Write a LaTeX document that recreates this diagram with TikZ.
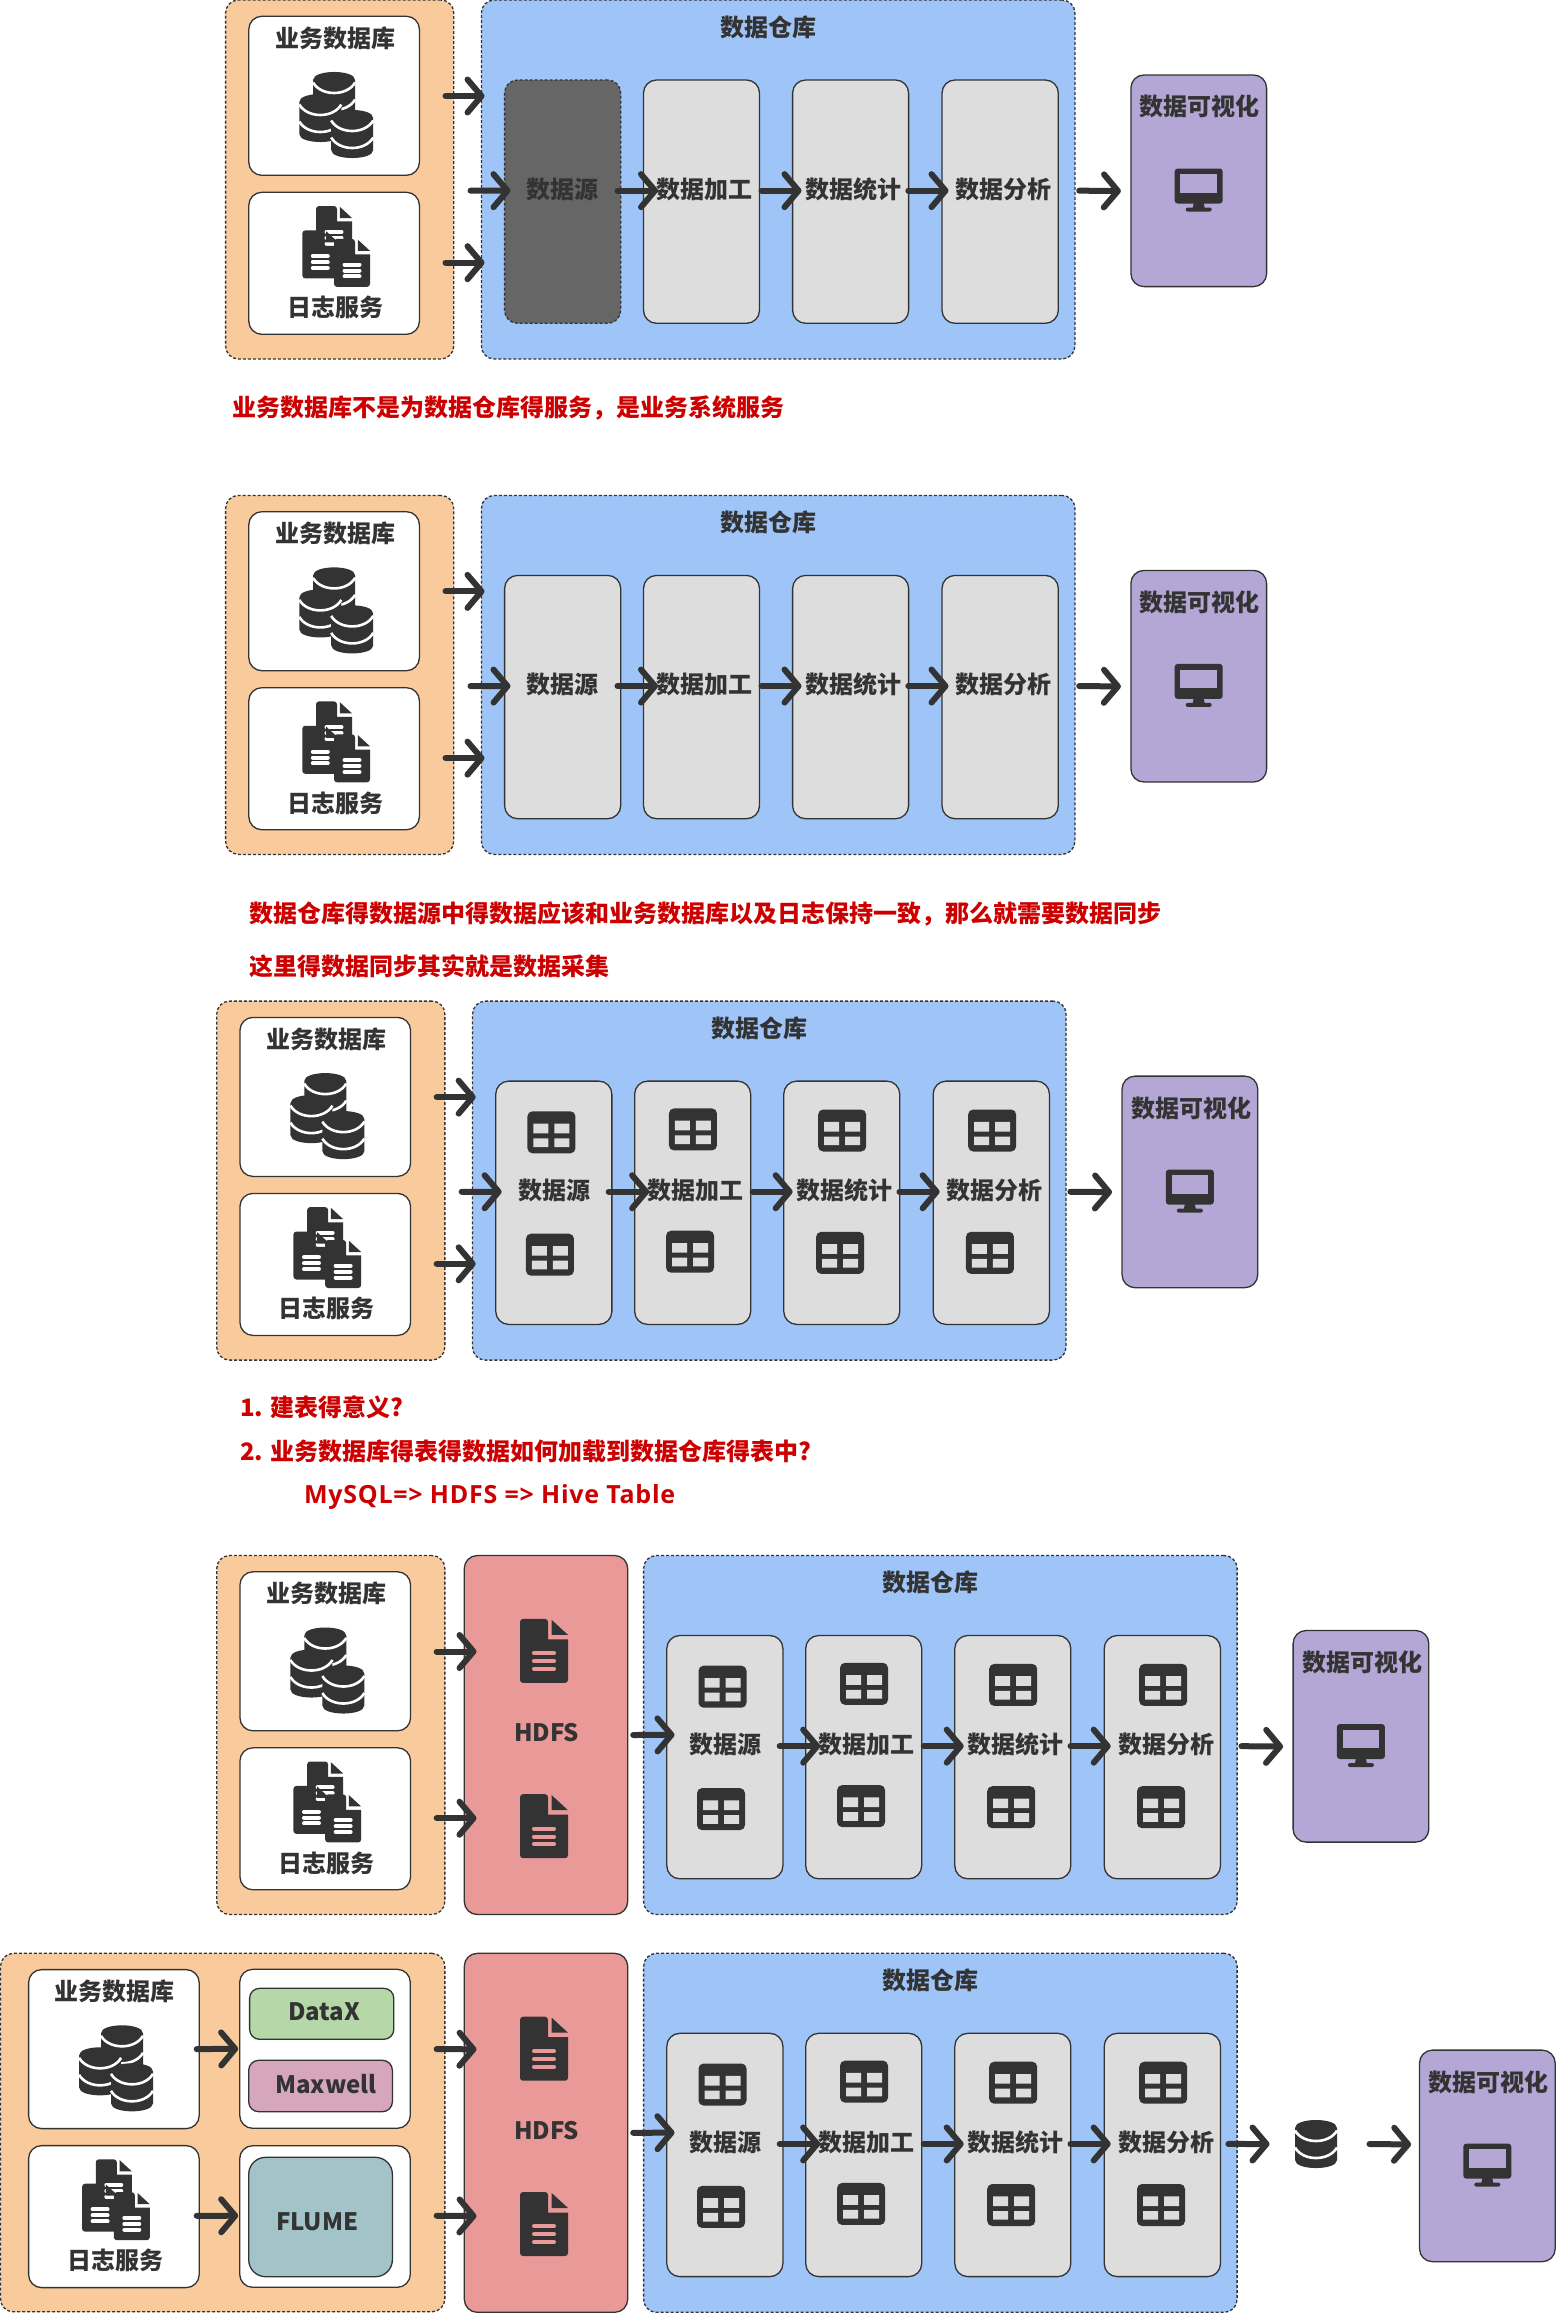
\documentclass[tikz,border=0pt]{standalone}
\usepackage{fontspec}
\setmainfont{Noto Sans CJK SC}
\newfontfamily\latinf[LetterSpace=3]{Open Sans}
\usetikzlibrary{arrows.meta}
\definecolor{ink}{HTML}{333333}
\definecolor{orangec}{HTML}{F9CB9C}
\definecolor{bluec}{HTML}{9FC5F8}
\definecolor{redc}{HTML}{EA9999}
\definecolor{purplec}{HTML}{B4A7D6}
\definecolor{greyc}{HTML}{DDDDDD}
\definecolor{darkc}{HTML}{666666}
\definecolor{greenc}{HTML}{B6D7A8}
\definecolor{pinkc}{HTML}{D5A6BD}
\definecolor{tealc}{HTML}{A2C4C9}
\definecolor{notec}{HTML}{CC0000}
\tikzset{
  bx/.style={rectangle,draw=ink,line width=1.3pt,inner sep=0pt,outer sep=0pt,rounded corners=13pt},
  dashbx/.style={bx,dash pattern=on 3pt off 2pt},
  flow/.style={draw=ink,line width=6pt,line cap=round,line join=round,shorten >=-2.5pt,shorten <=1.5pt,
    -{Straight Barb[length=14pt,width=33pt,line width=6pt,round]}},
  txt/.style={text=ink,font=\fontsize{24pt}{28pt}\selectfont\bfseries,inner sep=0pt,xshift=1.2pt,yshift=-.8pt},
  note/.style={text=notec,font=\fontsize{24pt}{28pt}\selectfont\bfseries,inner sep=0pt,anchor=west,xshift=1.2pt,yshift=-.8pt},
  pics/dbicon/.style={code={
    \fill[ink] (-21,-16) .. controls (-21,-26.7) and (21,-26.7) .. (21,-16) -- (21,16)
      .. controls (21,26.7) and (-21,26.7) .. (-21,16) -- cycle;
    \draw[white,line width=2.6pt] (-21,-13.5) .. controls (-13,0.5) and (13,0.5) .. (21,-13.5);
    \draw[white,line width=2.6pt] (-21,3.5) .. controls (-13,17.5) and (13,17.5) .. (21,3.5);
  }},
  pics/fileicon/.style={code={
    \path[fill=ink,rounded corners=3pt]
      (-24,-32) -- (4,-32) [sharp corners] -- (4,-11.5) -- (24,-11.5) [rounded corners=3pt]
      -- (24,32) -- (-24,32) -- cycle;
    \fill[ink] (7.7,-31) -- (24,-16) -- (7.7,-16) -- cycle;
    \draw[#1,line width=4pt,line cap=round] (-10,2.3) -- (10,2.3) (-10,10.3) -- (10,10.3) (-10,18) -- (10,18);
  }},
  pics/tableicon/.style={code={
    \fill[ink,rounded corners=5pt] (-24,-21) rectangle (24,21);
    \fill[greyc] (-18,-8.7) rectangle (-3,1) (3,-8.7) rectangle (18,1)
      (-18,6) rectangle (-3,14.7) (3,6) rectangle (18,14.7);
  }},
  pics/screenicon/.style={code={
    \fill[ink,rounded corners=3pt] (-24,-21.5) rectangle (24,13.5);
    \fill[purplec] (-18.3,-15.8) rectangle (18.3,2.8);
    \fill[ink] (-5,13) -- (5,13) -- (6,18) -- (-6,18) -- cycle;
    \fill[ink,rounded corners=2pt] (-13,17.5) rectangle (13,21.5);
  }},
}
\newcommand{\mybox}[6]{%
  \pgfmathsetmacro\bw{#5-#3}\pgfmathsetmacro\bh{#6-#4}%
  \pgfmathsetmacro\bcx{(#3+#5)/2}\pgfmathsetmacro\bcy{(#4+#6)/2}%
  \node[#1,minimum width=\bw pt,minimum height=\bh pt] (#2) at (\bcx,\bcy) {};}
\newcommand{\lbl}[4]{\node[txt] (#1) at (#2,#3) {#4};}
% white database and log boxes; #1 = left edge, #2 = x offset of the upper cylinder
\newcommand{\srcboxes}[2]{%
  \mybox{bx,fill=white}{dbbox}{#1}{16.3}{#1+170.6}{175.3}
  \mybox{bx,fill=white}{logbox}{#1}{192.3}{#1+170.6}{334.3}
  \lbl{dbtxt}{#1+85}{37.3}{业务数据库}
  \lbl{logtxt}{#1+85.5}{306.7}{日志服务}
  \pic at (#1+#2,96) {dbicon};
  \pic at (#1+71.5,118) {dbicon};
  \pic at (#1+103.4,134) {dbicon};
  \pic[scale=.75] at (#1+85.2,230) {fileicon=white};
  \pic[scale=.75] at (#1+71.5,254.4) {fileicon=white};
  \pic[scale=.75] at (#1+103.2,262.9) {fileicon=white};
}
% blue warehouse panel, #1 = style of the source box
\newcommand{\warehouse}[1]{%
  \mybox{dashbx,fill=bluec}{dw}{481.4}{0}{1074.9}{359}
  \lbl{dwtxt}{767.5}{26.5}{数据仓库}
  \mybox{#1}{srcn}{504.6}{80}{620.7}{323.3}
  \mybox{bx,fill=greyc}{proc}{643.5}{80}{759.5}{323.3}
  \mybox{bx,fill=greyc}{stat}{792.6}{80}{908.6}{323.3}
  \mybox{bx,fill=greyc}{anal}{942}{80}{1058.3}{323.3}
}
\newcommand{\wlabels}{%
  \lbl{srctxt}{561.7}{188.3}{数据源}
  \lbl{proctxt}{703.3}{188.3}{数据加工}
  \lbl{stattxt}{852}{188.3}{数据统计}
  \lbl{analtxt}{1002.6}{188.3}{数据分析}
}
\newcommand{\tables}{%
  \pic at (560.3,131.2) {tableicon};
  \pic at (558.8,253.6) {tableicon};
  \pic at (701.8,128.3) {tableicon};
  \pic at (698.9,250.6) {tableicon};
  \pic at (851,129.4) {tableicon};
  \pic at (849,251.7) {tableicon};
  \pic at (1001,129.4) {tableicon};
  \pic at (998.8,251.7) {tableicon};
}
\newcommand{\visbox}{%
  \mybox{bx,fill=purplec}{vis}{1130.9}{75}{1266.6}{286.6}
  \lbl{vistxt}{1198.7}{106}{数据可视化}
  \pic at (1198.7,190) {screenicon};
}
\newcommand{\innerlinks}{%
  \draw[flow] ([xshift=-4.7pt,yshift=11pt]srcn.east) -- ([xshift=12pt,yshift=11pt]proc.west);
  \draw[flow] ([xshift=.5pt,yshift=11pt]proc.east) -- ([xshift=6.4pt,yshift=11pt]stat.west);
  \draw[flow] ([xshift=-1.8pt,yshift=11pt]stat.east) -- ([xshift=4pt,yshift=11pt]anal.west);
}
\newcommand{\anavis}{%
  \draw[flow] ([xshift=19.4pt,yshift=11pt]anal.east) -- ([xshift=-12.5pt,yshift=-10.2pt]vis.west);
}
\newcommand{\hdfs}{%
  \mybox{bx,fill=redc}{hd}{464.3}{0}{627.7}{359}
  \lbl{hdtxt}{545.5}{176.7}{HDFS}
  \pic at (544,95.4) {fileicon=redc};
  \pic at (544,270.7) {fileicon=redc};
}
\begin{document}
\begin{tikzpicture}[x=1pt,y=-1pt]
\useasboundingbox (0,0) rectangle (1557,2313);
\fill[white] (0,0) rectangle (1557,2313);
% ---------- panel 1
\begin{scope}[name prefix=pa-]
  \mybox{dashbx,fill=orangec}{src}{225.6}{0}{453.7}{359}
  \srcboxes{248.8}{85.3}
  \warehouse{dashbx,fill=darkc}
  \wlabels
  \visbox
  \draw[flow] ([xshift=-9.7pt,yshift=83.5pt]src.east) -- ([xshift=.6pt,yshift=83.5pt]dw.west);
  \draw[flow] ([xshift=15.3pt,yshift=-11.2pt]src.east) -- ([xshift=3.4pt,yshift=11pt]srcn.west);
  \draw[flow] ([xshift=-9.7pt,yshift=-83.2pt]src.east) -- ([xshift=.6pt,yshift=-83.2pt]dw.west);
  \innerlinks
  \anavis
\end{scope}
\node[note] (n1) at (231,407) {业务数据库不是为数据仓库得服务，是业务系统服务};
% ---------- panel 2
\begin{scope}[shift={(0,495.4)},name prefix=pb-]
  \mybox{dashbx,fill=orangec}{src}{225.6}{0}{453.7}{359}
  \srcboxes{248.8}{85.3}
  \warehouse{bx,fill=greyc}
  \wlabels
  \visbox
  \draw[flow] ([xshift=-9.7pt,yshift=83.5pt]src.east) -- ([xshift=.6pt,yshift=83.5pt]dw.west);
  \draw[flow] ([xshift=15.3pt,yshift=-11.2pt]src.east) -- ([xshift=3.4pt,yshift=11pt]srcn.west);
  \draw[flow] ([xshift=-9.7pt,yshift=-83.2pt]src.east) -- ([xshift=.6pt,yshift=-83.2pt]dw.west);
  \innerlinks
  \anavis
\end{scope}
\node[note] (n2) at (247.7,912.7) {数据仓库得数据源中得数据应该和业务数据库以及日志保持一致，那么就需要数据同步};
\node[note] (n3) at (247.7,965.7) {这里得数据同步其实就是数据采集};
% ---------- panel 3
\begin{scope}[shift={(-8.85,1001.1)},name prefix=pc-]
  \mybox{dashbx,fill=orangec}{src}{225.6}{0}{453.7}{359}
  \srcboxes{248.8}{85.3}
  \warehouse{bx,fill=greyc}
  \tables
  \wlabels
  \visbox
  \draw[flow] ([xshift=-9.7pt,yshift=83.5pt]src.east) -- ([xshift=.6pt,yshift=83.5pt]dw.west);
  \draw[flow] ([xshift=15.3pt,yshift=-11.2pt]src.east) -- ([xshift=3.4pt,yshift=11pt]srcn.west);
  \draw[flow] ([xshift=-9.7pt,yshift=-83.2pt]src.east) -- ([xshift=.6pt,yshift=-83.2pt]dw.west);
  \innerlinks
  \anavis
\end{scope}
\node[note] (n4) at (238.9,1406.6) {1. 建表得意义?};
\node[note] (n5) at (238.9,1450.8) {2. 业务数据库得表得数据如何加载到数据仓库得表中?};
\node[note,font=\fontsize{25pt}{28pt}\selectfont\bfseries] (n6) at (302.7,1496) {\latinf MySQL=> HDFS => Hive Table};
% ---------- panel 4
\begin{scope}[shift={(0,1555.5)},name prefix=pd-]
  \begin{scope}[shift={(-8.85,0)}]
    \mybox{dashbx,fill=orangec}{src}{225.6}{0}{453.7}{359}
    \srcboxes{248.8}{85.3}
  \end{scope}
  \hdfs
  \begin{scope}[shift={(162.2,0)}]
    \warehouse{bx,fill=greyc}
    \tables
    \wlabels
    \visbox
    \innerlinks
    \anavis
  \end{scope}
  \draw[flow] ([xshift=-9.7pt,yshift=83.5pt]src.east) -- ([xshift=9.7pt,yshift=83.5pt]hd.west);
  \draw[flow] ([xshift=-9.7pt,yshift=-83.2pt]src.east) -- ([xshift=9.7pt,yshift=-83.2pt]hd.west);
  \draw[flow] ([xshift=4pt]hd.east) -- ([xshift=5.2pt,yshift=22.3pt]srcn.west);
\end{scope}
% ---------- panel 5
\begin{scope}[shift={(0,1953.3)},name prefix=pe-]
  \mybox{dashbx,fill=orangec}{src}{0.5}{0}{444.85}{358.5}
  \srcboxes{28.6}{93.4}
  \mybox{bx,fill=white}{cola}{239.7}{16}{410.3}{175}
  \mybox{bx,fill=white}{colb}{239.7}{192.4}{410.3}{334}
  \mybox{bx,fill=greenc,rounded corners=10pt}{datax}{249.6}{35}{393.8}{86}
  \mybox{bx,fill=pinkc,rounded corners=10pt}{maxw}{248.7}{107}{392.4}{158.4}
  \mybox{bx,fill=tealc,rounded corners=17pt}{flume}{248.7}{204}{392.4}{323.4}
  \lbl{dataxtxt}{322.8}{57.7}{DataX}
  \lbl{maxwtxt}{324.6}{129.7}{Maxwell}
  \lbl{flumetxt}{316}{267.7}{FLUME}
  \hdfs
  \begin{scope}[shift={(162.2,0)}]
    \warehouse{bx,fill=greyc}
    \tables
    \wlabels
    \innerlinks
  \end{scope}
  \begin{scope}[shift={(288.6,21.8)}]
    \visbox
  \end{scope}
  \node[inner sep=0pt,outer sep=0pt,minimum width=42pt,minimum height=48pt] (db) at (1316,190.7) {};
  \pic at (db.center) {dbicon};
  \draw[flow] ([xshift=-4pt]dbbox.east) -- ([xshift=-4pt]cola.west);
  \draw[flow] ([xshift=-4pt,yshift=.8pt]logbox.east) -- ([xshift=-4pt,yshift=.8pt]colb.west);
  \draw[flow] ([xshift=-9.7pt,yshift=83.5pt]src.east) -- ([xshift=9.7pt,yshift=83.5pt]hd.west);
  \draw[flow] ([xshift=-9.7pt,yshift=-83.2pt]src.east) -- ([xshift=9.7pt,yshift=-83.2pt]hd.west);
  \draw[flow] ([xshift=4pt]hd.east) -- ([xshift=5.2pt,yshift=22.3pt]srcn.west);
  \draw[flow] ([xshift=6.4pt,yshift=11pt]anal.east) -- ([xshift=-28pt]db.west);
  \draw[flow] ([xshift=31pt]db.east) -- ([xshift=-10.9pt,yshift=11.5pt]vis.west);
\end{scope}
\end{tikzpicture}
\end{document}
